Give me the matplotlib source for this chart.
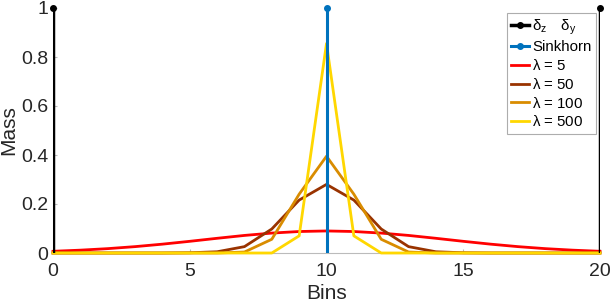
import numpy as np
import matplotlib.pyplot as plt

plt.rcParams['font.family'] = ['Liberation Sans', 'DejaVu Sans']

# data
bins = np.arange(0, 21)
delta_z = [0, 1.0]     # bin, mass
delta_y = [20, 1.0]
sinkhorn = [10, 1.0]

lam5 = [0.007, 0.0116, 0.0178, 0.026, 0.0361, 0.0477, 0.060, 0.0717, 0.0813, 0.0877, 0.090,
        0.0877, 0.0813, 0.0717, 0.060, 0.0477, 0.0361, 0.026, 0.0178, 0.0116, 0.007]
lam50 = [0, 0, 0, 0, 0, 0.001, 0.005, 0.026, 0.098, 0.216, 0.28,
         0.216, 0.098, 0.026, 0.005, 0.001, 0, 0, 0, 0, 0]
lam100 = [0, 0, 0, 0, 0, 0, 0, 0.004, 0.056, 0.24, 0.395,
          0.24, 0.056, 0.004, 0, 0, 0, 0, 0, 0, 0]
lam500 = [0, 0, 0, 0, 0, 0, 0, 0, 0, 0.07, 0.855,
          0.07, 0, 0, 0, 0, 0, 0, 0, 0, 0]

lam_labels = [r'$\mathregular{λ}$ = 5', r'$\mathregular{λ}$ = 50',
              r'$\mathregular{λ}$ = 100', r'$\mathregular{λ}$ = 500']
lam_colors = ['#ff0000', '#993300', '#d98c00', '#ffd700']

fig = plt.figure(figsize=(6.12, 3.02), dpi=100)
ax = fig.add_axes([53/612, 49/302, 547/612, 245/302])

lw = 2.0
ax.plot([delta_z[0], delta_z[0]], [0, delta_z[1]], color='black', lw=2.5, zorder=5)
ax.plot(delta_z[0], delta_z[1], 'o', color='black', ms=4, zorder=6, clip_on=False)
ax.plot([delta_y[0], delta_y[0]], [0, delta_y[1]], color='black', lw=2.5, zorder=5)
ax.plot(delta_y[0], delta_y[1], 'o', color='black', ms=4, zorder=6, clip_on=False)
h_delta, = ax.plot([], [], '-o', color='black', lw=2.5, ms=4,
                   label=r'$\mathregular{δ_z\ \ \ δ_y}$')

ax.plot([sinkhorn[0], sinkhorn[0]], [0, sinkhorn[1]], color='#0072bd', lw=2.2, zorder=4)
ax.plot(sinkhorn[0], sinkhorn[1], 'o', color='#0072bd', ms=4, zorder=4, clip_on=False)
h_sink, = ax.plot([], [], '-o', color='#0072bd', lw=2.2, ms=4, label='Sinkhorn')

handles = [h_delta, h_sink]
for vals, lab, col in zip([lam5, lam50, lam100, lam500], lam_labels, lam_colors):
    h, = ax.plot(bins, vals, color=col, lw=lw, label=lab, zorder=3, clip_on=False)
    handles.append(h)

ax.set_xlim(0, 20)
ax.set_ylim(0, 1)
ax.set_xticks([0, 5, 10, 15, 20])
ax.set_yticks([0, 0.2, 0.4, 0.6, 0.8, 1])
ax.set_yticklabels(['0', '0.2', '0.4', '0.6', '0.8', '1'])
ax.tick_params(direction='in', length=3, color='#bbbbbb', labelsize=14, labelcolor='#262626')
ax.tick_params(axis='x', pad=7)
for s in ['top', 'right']:
    ax.spines[s].set_visible(False)
ax.spines['left'].set_color('#bbbbbb')
ax.spines['bottom'].set_color('#bbbbbb')
ax.set_xlabel('Bins', fontsize=15, color='#262626', labelpad=3)
ax.set_ylabel('Mass', fontsize=15, color='#262626', labelpad=2)

leg = ax.legend(handles=handles, loc='upper right', bbox_to_anchor=(0.993, 0.98),
                fontsize=10.8, frameon=True, fancybox=False, handlelength=1.15,
                handletextpad=0.25, labelspacing=0.25, borderpad=0.3, borderaxespad=0)
leg.get_frame().set_edgecolor('#999999')
leg.get_frame().set_linewidth(0.8)

fig.savefig('out.png', dpi=100)
